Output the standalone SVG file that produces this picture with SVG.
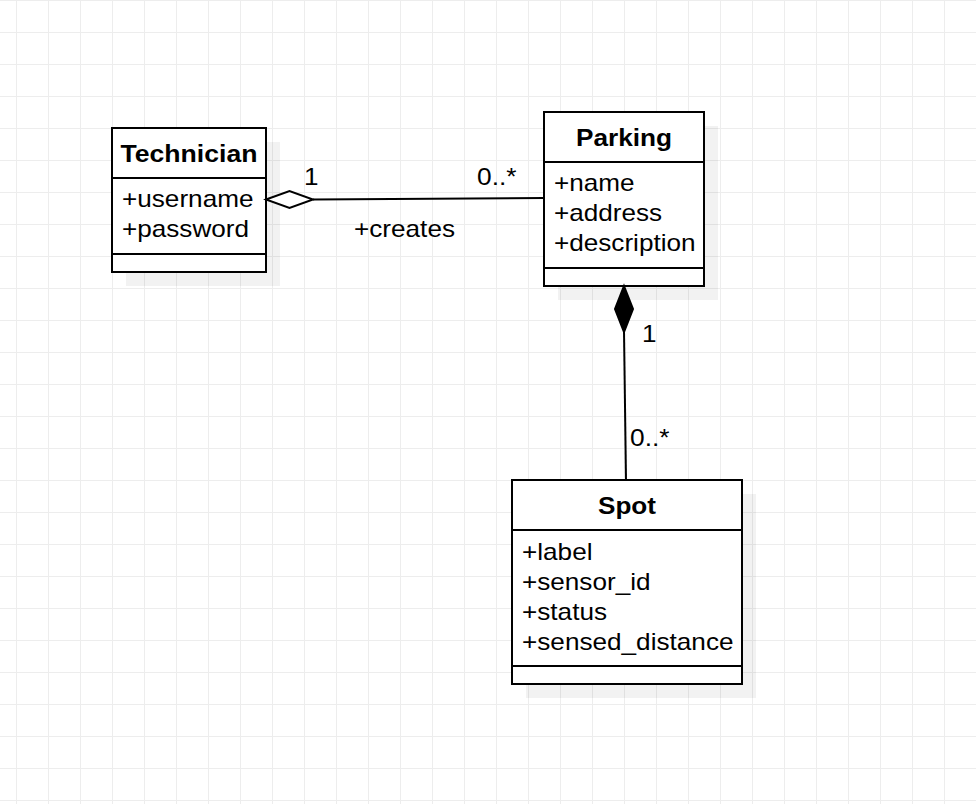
<svg xmlns="http://www.w3.org/2000/svg" width="976" height="804" viewBox="0 0 976 804">
  <defs>
    <pattern id="grid" x="16" y="0" width="32" height="32" patternUnits="userSpaceOnUse">
      <path d="M0.5,0 V32 M0,0.5 H32" fill="none" stroke="#ededed" stroke-width="1"/>
    </pattern>
  </defs>
  <style>
    .box { fill: #ffffff; stroke: #000000; stroke-width: 2; }
    .shadow { fill: #000000; fill-opacity: 0.05; }
    .div { stroke: #000000; stroke-width: 2; fill: none; }
    .title { font-family: "Liberation Sans", Arial, sans-serif; font-size: 24px; font-weight: bold; fill: #000000; text-anchor: middle; }
    .attr { font-family: "Liberation Sans", Arial, sans-serif; font-size: 24px; fill: #000000; }
    .lbl { font-family: "Liberation Sans", Arial, sans-serif; font-size: 24px; fill: #000000; }
    .edge { stroke: #000000; stroke-width: 2; fill: none; }
  </style>
  <rect x="0" y="0" width="976" height="804" fill="#ffffff"/>
  <rect x="0" y="0" width="976" height="804" fill="url(#grid)"/>

  <g id="technician">
    <rect class="shadow" x="126" y="142" width="154" height="144"/>
    <rect class="box" x="112" y="128" width="154" height="144"/>
    <line class="div" x1="112" y1="178" x2="266" y2="178"/>
    <line class="div" x1="112" y1="254" x2="266" y2="254"/>
    <text class="title" x="189" y="162" textLength="137" lengthAdjust="spacingAndGlyphs">Technician</text>
    <text class="attr" x="122" y="207" textLength="131.5" lengthAdjust="spacingAndGlyphs">+username</text>
    <text class="attr" x="122" y="237" textLength="127" lengthAdjust="spacingAndGlyphs">+password</text>
  </g>

  <g id="parking">
    <rect class="shadow" x="558" y="126" width="160" height="174"/>
    <rect class="box" x="544" y="112" width="160" height="174"/>
    <line class="div" x1="544" y1="162" x2="704" y2="162"/>
    <line class="div" x1="544" y1="268" x2="704" y2="268"/>
    <text class="title" x="624" y="146" textLength="96" lengthAdjust="spacingAndGlyphs">Parking</text>
    <text class="attr" x="554" y="191" textLength="80.5" lengthAdjust="spacingAndGlyphs">+name</text>
    <text class="attr" x="554" y="221" textLength="108" lengthAdjust="spacingAndGlyphs">+address</text>
    <text class="attr" x="554" y="251" textLength="141.5" lengthAdjust="spacingAndGlyphs">+description</text>
  </g>

  <g id="spot">
    <rect class="shadow" x="526" y="494" width="230" height="204"/>
    <rect class="box" x="512" y="480" width="230" height="204"/>
    <line class="div" x1="512" y1="530" x2="742" y2="530"/>
    <line class="div" x1="512" y1="666" x2="742" y2="666"/>
    <text class="title" x="627" y="514" textLength="58" lengthAdjust="spacingAndGlyphs">Spot</text>
    <text class="attr" x="522" y="560" textLength="70.5" lengthAdjust="spacingAndGlyphs">+label</text>
    <text class="attr" x="522" y="590" textLength="128.5" lengthAdjust="spacingAndGlyphs">+sensor_id</text>
    <text class="attr" x="522" y="620" textLength="85" lengthAdjust="spacingAndGlyphs">+status</text>
    <text class="attr" x="522" y="650" textLength="211.5" lengthAdjust="spacingAndGlyphs">+sensed_distance</text>
  </g>

  <g id="connectors">
    <g id="edge-creates">
      <line class="edge" x1="313" y1="199.5" x2="544" y2="198"/>
      <path d="M266,199.5 L289.5,191 L313,199.5 L289.5,208 Z" fill="#ffffff" stroke="#000000" stroke-width="2"/>
      <text class="lbl" x="304" y="185" textLength="14.5" lengthAdjust="spacingAndGlyphs">1</text>
      <text class="lbl" x="477" y="185" textLength="39.5" lengthAdjust="spacingAndGlyphs">0..*</text>
      <text class="lbl" x="354" y="237" textLength="101" lengthAdjust="spacingAndGlyphs">+creates</text>
    </g>
    <g id="edge-spots">
      <line class="edge" x1="624" y1="331" x2="626" y2="480"/>
      <path d="M624,286 L633,309 L624,332 L615,309 Z" fill="#000000" stroke="#000000" stroke-width="2"/>
      <text class="lbl" x="642" y="342" textLength="14.5" lengthAdjust="spacingAndGlyphs">1</text>
      <text class="lbl" x="630" y="446" textLength="39.5" lengthAdjust="spacingAndGlyphs">0..*</text>
    </g>
  </g>
</svg>
